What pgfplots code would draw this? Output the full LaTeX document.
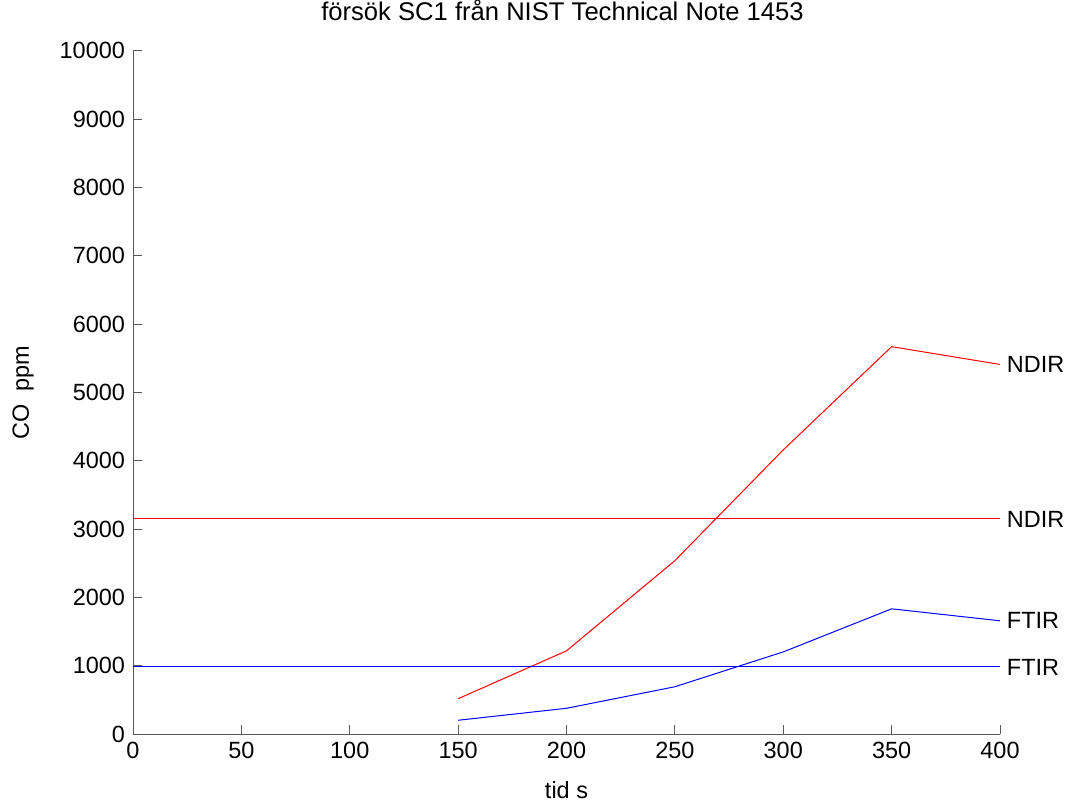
\documentclass[border=0pt]{standalone}
\usepackage{fontspec}
\setmainfont{Liberation Sans}
\usepackage{pgfplots}
\pgfplotsset{compat=1.18}
\begin{document}
\begin{tikzpicture}
\begin{axis}[
  width=650.25pt, height=512.7pt, scale only axis,
  xmin=0, xmax=400, ymin=0, ymax=10000,
  axis x line*=bottom, axis y line*=left,
  axis line style={draw=black!65, line width=0.75pt, -},
  every tick/.style={draw=black!65, line width=0.75pt},
  tick align=inside, major tick length=7pt,
  xtick={0,50,...,400}, ytick={0,1000,...,10000},
  scaled y ticks=false,
  /pgf/number format/1000 sep={},
  /pgf/number format/assume math mode=true,
  ticklabel style={font=\fontsize{17.6}{20}\selectfont},
  xticklabel style={yshift=-2.5pt},
  yticklabel style={xshift=-2.5pt},
  title={försök SC1 från NIST Technical Note 1453},
  title style={font=\fontsize{19.2}{22}\selectfont, at={(axis description cs:0.5,1)}, anchor=center, yshift=24.5pt, xshift=-3pt},
  xlabel={tid s}, ylabel={CO\ \ ppm},
  label style={font=\fontsize{17.6}{20}\selectfont},
  xlabel style={at={(axis description cs:0.5,0)}, anchor=center, yshift=-42pt},
  ylabel style={at={(axis description cs:0,0.5)}, anchor=center, xshift=0pt, yshift=82.5pt},
  clip=false,
]
\addplot[red, line width=0.75pt] coordinates {(150,520) (200,1220) (250,2540) (300,4160) (350,5670) (400,5410)};
\addplot[blue, line width=0.75pt] coordinates {(150,205) (200,380) (250,695) (300,1205) (350,1835) (400,1660)};
\addplot[red, line width=0.75pt] coordinates {(0,3150) (400,3150)};
\addplot[blue, line width=0.75pt] coordinates {(0,985) (400,985)};
\node[anchor=west, xshift=1.7pt, font=\fontsize{17.6}{20}\selectfont] at (axis cs:400,5410) {NDIR};
\node[anchor=west, xshift=1.7pt, font=\fontsize{17.6}{20}\selectfont] at (axis cs:400,3150) {NDIR};
\node[anchor=west, xshift=1.7pt, font=\fontsize{17.6}{20}\selectfont] at (axis cs:400,1660) {FTIR};
\node[anchor=west, xshift=1.7pt, font=\fontsize{17.6}{20}\selectfont] at (axis cs:400,985) {FTIR};
\end{axis}
\pgfresetboundingbox
\path ([xshift=-99.75pt, yshift=-53.25pt]current axis.south west) rectangle ([xshift=56.25pt, yshift=38pt]current axis.north east);
\end{tikzpicture}
\end{document}
